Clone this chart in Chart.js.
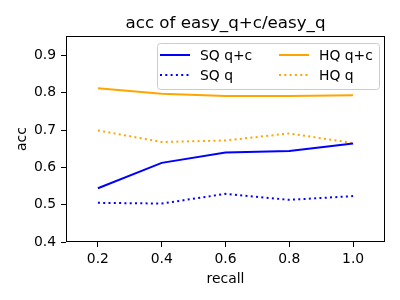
<!DOCTYPE html>
<html>
<head>
<meta charset="utf-8">
<script src="https://cdn.jsdelivr.net/npm/chart.js@4"></script>
<style>
  html, body { margin: 0; padding: 0; background: #fff; }
  #wrap { width: 400px; height: 300px; }
</style>
</head>
<body>
<div id="wrap"><canvas id="acc-chart" width="400" height="300"></canvas></div>
<script>
const recall = [0.2, 0.4, 0.6, 0.8, 1.0]
const sqQC = [0.544, 0.612, 0.640, 0.644, 0.664]
const sqQ = [0.505, 0.503, 0.529, 0.513, 0.523]
const hqQC = [0.812, 0.797, 0.791, 0.791, 0.793]
const hqQ = [0.699, 0.668, 0.672, 0.691, 0.665]
const xTicks = [0.2, 0.4, 0.6, 0.8, 1.0]
const yTicks = [0.4, 0.5, 0.6, 0.7, 0.8, 0.9]
const chartTitle = 'acc of easy_q+c/easy_q'

const FONT = 'DejaVu Sans'
const BLUE = '#0000ff'
const ORANGE = '#ffa500'

function toPoints (ys) {
  return ys.map(function (y, i) { return { x: recall[i], y: y } })
}

function makeSet (label, ys, color, dotted) {
  return {
    label: label,
    data: toPoints(ys),
    borderColor: color,
    backgroundColor: color,
    borderWidth: 2,
    borderDash: dotted ? [2, 3.3] : [],
    borderCapStyle: 'butt',
    pointRadius: 0,
    tension: 0,
    fill: false,
  }
}

// matplotlib style frame, title over the axes, legend inside the axes
const framePlugin = {
  id: 'frame',
  afterDraw: function (chart) {
    const ctx = chart.ctx
    const a = chart.chartArea
    ctx.save()
    ctx.strokeStyle = '#000'
    ctx.lineWidth = 1
    ctx.setLineDash([])
    ctx.strokeRect(Math.round(a.left) + 0.5, Math.round(a.top) + 0.5,
      Math.round(a.right - a.left) - 1, Math.round(a.bottom - a.top) - 1)

    // title
    ctx.fillStyle = '#000'
    ctx.font = '16.7px "' + FONT + '"'
    ctx.textAlign = 'center'
    ctx.textBaseline = 'alphabetic'
    ctx.fillText(chartTitle, (a.left + a.right) / 2, a.top - 8)

    // legend
    const bx = a.right - 228, by = a.top + 7, bw = 222, bh = 46
    ctx.fillStyle = 'rgba(255,255,255,0.8)'
    ctx.strokeStyle = '#cccccc'
    ctx.beginPath()
    ctx.roundRect(bx + 0.5, by + 0.5, bw, bh, 3)
    ctx.fill()
    ctx.stroke()

    const ds = chart.data.datasets
    const cols = [bx + 3, bx + 122]
    const rows = [by + 12, by + 32]
    ctx.font = '13.9px "' + FONT + '"'
    ctx.textAlign = 'left'
    ctx.textBaseline = 'middle'
    ds.forEach(function (d, k) {
      const x = cols[Math.floor(k / 2)]
      const y = rows[k % 2]
      ctx.strokeStyle = d.borderColor
      ctx.lineWidth = 2
      ctx.lineCap = 'butt'
      ctx.setLineDash(d.borderDash)
      ctx.beginPath()
      ctx.moveTo(x, y)
      ctx.lineTo(x + 30, y)
      ctx.stroke()
      ctx.setLineDash([])
      ctx.fillStyle = '#000'
      ctx.fillText(d.label, x + 40, y + 1)
    })
    ctx.restore()
  },
}

const config = {
  type: 'line',
  data: {
    datasets: [
      makeSet('SQ q+c', sqQC, BLUE, false),
      makeSet('SQ q', sqQ, BLUE, true),
      makeSet('HQ q+c', hqQC, ORANGE, false),
      makeSet('HQ q', hqQ, ORANGE, true),
    ],
  },
  options: {
    responsive: false,
    animation: false,
    layout: { padding: { left: 0, right: 15, top: 36, bottom: 0 } },
    plugins: {
      legend: { display: false },
      tooltip: { enabled: false },
      title: { display: false },
    },
    scales: {
      x: {
        type: 'linear',
        min: 0.1,
        max: 1.1,
        afterBuildTicks: function (scale) {
          scale.ticks = xTicks.map(function (v) { return { value: v } })
        },
        afterFit: function (scale) { scale.height = 58 },
        grid: { drawOnChartArea: false, drawTicks: true, tickLength: 5, color: '#000' },
        border: { display: false },
        ticks: {
          color: '#000',
          padding: 4,
          maxRotation: 0,
          font: { family: FONT, size: 13.9 },
          callback: function (v) { return v.toFixed(1) },
        },
        title: {
          display: true,
          text: 'recall',
          color: '#000',
          font: { family: FONT, size: 13.9 },
          padding: { top: 4, bottom: 12 },
        },
      },
      y: {
        min: 0.4,
        max: 0.952,
        afterBuildTicks: function (scale) {
          scale.ticks = yTicks.map(function (v) { return { value: v } })
        },
        afterFit: function (scale) { scale.width = 66 },
        grid: { drawOnChartArea: false, drawTicks: true, tickLength: 5, color: '#000' },
        border: { display: false },
        ticks: {
          color: '#000',
          padding: 5,
          font: { family: FONT, size: 13.9 },
          callback: function (v) { return v.toFixed(1) },
        },
        title: {
          display: true,
          text: 'acc',
          color: '#000',
          font: { family: FONT, size: 13.9 },
          padding: { top: 14, bottom: 14 },
        },
      },
    },
  },
  plugins: [framePlugin],
}

const ctx = document.getElementById('acc-chart').getContext('2d')
const accChart = new Chart(ctx, config)
</script>
</body>
</html>
